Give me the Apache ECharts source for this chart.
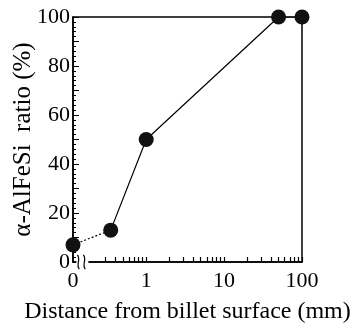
<!DOCTYPE html>
<html>
<head>
<meta charset="utf-8">
<script src="https://cdn.jsdelivr.net/npm/echarts@6/dist/echarts.min.js"></script>
<style>html,body{margin:0;padding:0;background:#fff;}#c{width:361px;height:328px;}</style>
</head>
<body>
<div id="c"></div>
<script>
// ---- data ----
const distances = [0, 0.35, 1, 50, 100];          // mm (0 = surface, shown at axis break)
const ratios = [7, 13, 50, 100, 100];             // %
const xTickLabels = ['0', '1', '10', '100'];
const xLabelDistances = [0, 1, 10, 100];
const xMinorTickDistances = [0.3,0.4,0.5,0.6,0.7,0.8,0.9,1,2,3,4,5,6,7,8,9,10,20,30,40,50,60,70,80,90,100];

// ---- layout constants ----
const BREAK_POS = -0.94;   // log10 axis position where distance 0 is drawn
const toAxis = d => d === 0 ? BREAK_POS : Math.log10(d);
const FONT = 'Liberation Serif';

const pts = distances.map((d, i) => [toAxis(d), ratios[i]]);

const chart = echarts.init(document.getElementById('c'), null, {renderer: 'canvas'});
chart.setOption({
  animation: false,
  backgroundColor: '#fff',
  grid: {left: 73, right: 59, top: 17, bottom: 66, containLabel: false, outerBoundsMode: 'none',
    show: true, borderColor: '#000', borderWidth: 1.5, backgroundColor: 'transparent'},
  xAxis: {
    type: 'value', min: BREAK_POS, max: 2,
    name: 'Distance from billet surface (mm)', nameLocation: 'middle', nameGap: 38, nameMoveOverlap: false,
    nameTextStyle: {fontFamily: FONT, fontSize: 24, color: '#000'},
    axisLine: {show: true, onZero: false, lineStyle: {color: '#000', width: 1.5}},
    splitLine: {show: false},
    axisTick: {show: true, inside: true, length: 5, lineStyle: {color: '#000', width: 1.2},
      customValues: xMinorTickDistances.map(toAxis)},
    axisLabel: {show: true, fontFamily: FONT, fontSize: 22, color: '#000', margin: 8,
      customValues: xLabelDistances.map(toAxis),
      formatter: v => {
        const i = xLabelDistances.findIndex(d => Math.abs(toAxis(d) - v) < 1e-6);
        return i >= 0 ? xTickLabels[i] : '';
      }}
  },
  yAxis: {
    type: 'value', min: 0, max: 100, interval: 10,
    name: 'α-AlFeSi  ratio (%)', nameLocation: 'middle', nameGap: 37, nameMoveOverlap: false,
    nameTextStyle: {fontFamily: FONT, fontSize: 25, color: '#000'},
    axisLine: {show: true, onZero: false, lineStyle: {color: '#000', width: 1.5}},
    splitLine: {show: false},
    axisTick: {show: true, inside: true, length: 6, lineStyle: {color: '#000', width: 1}},
    minorTick: {show: true, splitNumber: 5, length: 3, lineStyle: {color: '#000', width: 1}},
    axisLabel: {fontFamily: FONT, fontSize: 22, color: '#000', margin: 3,
      formatter: v => (v % 20 === 0 ? String(v) : '')}
  },
  series: [
    {type: 'line', data: pts.slice(0, 2), symbol: 'none',
      lineStyle: {color: '#000', width: 1.2, type: [2, 2]}, z: 2},
    {type: 'line', data: pts.slice(1), symbol: 'none',
      lineStyle: {color: '#000', width: 1.2}, z: 2},
    {type: 'scatter', data: pts, symbol: 'circle', symbolSize: 15,
      itemStyle: {color: '#111', opacity: 1}, z: 3}
  ]
});

// axis-break squiggle, positioned via the axis scale
const p = chart.convertToPixel({gridIndex: 0}, [-0.82, 0]);
const x0 = p[0], y0 = p[1];
chart.setOption({
  graphic: [
    {type: 'rect', shape: {x: x0 - 6, y: y0 - 2, width: 12, height: 4}, style: {fill: '#fff'}, z: 10},
    {type: 'bezierCurve', shape: {x1: x0 - 5, y1: y0 - 7, cpx1: x0 - 1, cpy1: y0 - 3, cpx2: x0 - 7, cpy2: y0 + 3, x2: x0 - 3, y2: y0 + 7},
      style: {stroke: '#000', lineWidth: 1.2, fill: null}, z: 11},
    {type: 'bezierCurve', shape: {x1: x0 + 1, y1: y0 - 7, cpx1: x0 + 5, cpy1: y0 - 3, cpx2: x0 - 1, cpy2: y0 + 3, x2: x0 + 3, y2: y0 + 7},
      style: {stroke: '#000', lineWidth: 1.2, fill: null}, z: 11}
  ]
});
</script>
</body>
</html>
